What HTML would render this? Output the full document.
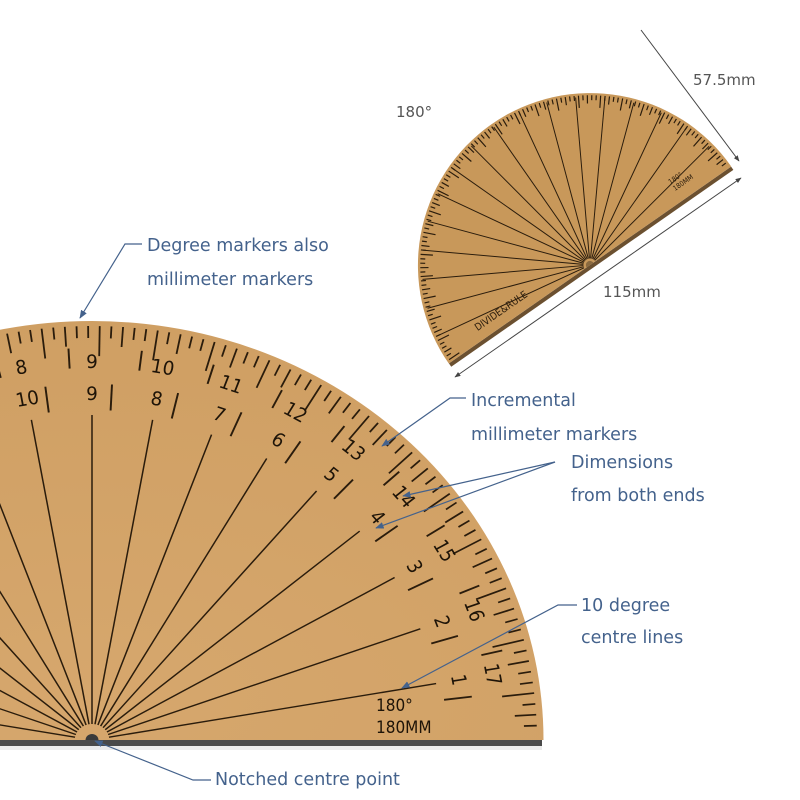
<!DOCTYPE html>
<html><head><meta charset="utf-8"><style>
html,body{margin:0;padding:0;background:#fff}
svg{display:block}
.lb{font-family:"DejaVu Sans","Liberation Sans",sans-serif;font-size:17.5px;fill:#44628c}
.dm{font-family:"DejaVu Sans","Liberation Sans",sans-serif;font-size:15px;fill:#555}
.num{font-family:"DejaVu Sans Condensed","DejaVu Sans",sans-serif;font-size:19px;fill:#1e1408;text-anchor:middle}
</style></head><body>
<svg id="s" width="800" height="800" viewBox="0 0 800 800" xmlns="http://www.w3.org/2000/svg">
<defs>
<radialGradient id="wood" cx="0.5" cy="0.9" r="0.9">
<stop offset="0" stop-color="#d6a76d"/><stop offset="1" stop-color="#cf9f63"/>
</radialGradient>
<marker id="ah" viewBox="0 0 10 10" refX="9" refY="5" markerWidth="7" markerHeight="7" orient="auto"><path d="M0,1 L10,5 L0,9 z" fill="#44628c"/></marker>
<marker id="dh" viewBox="0 0 10 10" refX="9" refY="5" markerWidth="6" markerHeight="6" orient="auto-start-reverse"><path d="M0,1 L10,5 L0,9 z" fill="#444"/></marker>
</defs>

<!-- big protractor -->
<rect x="0" y="739" width="542" height="7" fill="#4a4a4a"/>
<rect x="0" y="746" width="542" height="4" fill="#ddd" opacity="0.6"/>
<g id="big" transform="translate(92,740) scale(1.075,1)">
  <path d="M-420,0 A420,419 0 0 1 420,0 Z" fill="url(#wood)"/>
  <g id="bigLines" stroke="#2a1c0c" fill="none"></g>
  <path d="M-6,0 A6,6 0 0 1 6,0 Z" fill="#3a3a3a"/>
  <g id="bigLabels">
    <text class="num" transform="rotate(-80) translate(0,-372)">1</text>
    <text class="num" transform="rotate(-80) translate(0,-340)">17</text>
    <text class="num" transform="rotate(-70) translate(0,-372)">2</text>
    <text class="num" transform="rotate(-70) translate(0,-340)">16</text>
    <text class="num" transform="rotate(-60) translate(0,-372)">3</text>
    <text class="num" transform="rotate(-60) translate(0,-340)">15</text>
    <text class="num" transform="rotate(-50) translate(0,-372)">4</text>
    <text class="num" transform="rotate(-50) translate(0,-340)">14</text>
    <text class="num" transform="rotate(-40) translate(0,-372)">5</text>
    <text class="num" transform="rotate(-40) translate(0,-340)">13</text>
    <text class="num" transform="rotate(-30) translate(0,-372)">6</text>
    <text class="num" transform="rotate(-30) translate(0,-340)">12</text>
    <text class="num" transform="rotate(-20) translate(0,-372)">7</text>
    <text class="num" transform="rotate(-20) translate(0,-340)">11</text>
    <text class="num" transform="rotate(-10) translate(0,-372)">8</text>
    <text class="num" transform="rotate(-10) translate(0,-340)">10</text>
    <text class="num" transform="rotate(0) translate(0,-372)">9</text>
    <text class="num" transform="rotate(0) translate(0,-340)">9</text>
    <text class="num" transform="rotate(10) translate(0,-372)">10</text>
    <text class="num" transform="rotate(10) translate(0,-340)">8</text>
    <text class="num" transform="rotate(20) translate(0,-372)">11</text>
    <text class="num" transform="rotate(20) translate(0,-340)">7</text>
    <text class="num" transform="rotate(30) translate(0,-372)">12</text>
    <text class="num" transform="rotate(30) translate(0,-340)">6</text>
    <text class="num" transform="rotate(40) translate(0,-372)">13</text>
    <text class="num" transform="rotate(40) translate(0,-340)">5</text>
    <text class="num" transform="rotate(50) translate(0,-372)">14</text>
    <text class="num" transform="rotate(50) translate(0,-340)">4</text>
    <text class="num" transform="rotate(60) translate(0,-372)">15</text>
    <text class="num" transform="rotate(60) translate(0,-340)">3</text>
    <text class="num" transform="rotate(70) translate(0,-372)">16</text>
    <text class="num" transform="rotate(70) translate(0,-340)">2</text>
    <text class="num" transform="rotate(80) translate(0,-372)">17</text>
    <text class="num" transform="rotate(80) translate(0,-340)">1</text>
  </g>
</g>
<text x="376" y="711" font-family="DejaVu Sans Condensed,DejaVu Sans,sans-serif" font-size="17" fill="#1e1408">180°</text>
<text x="376" y="733" font-family="DejaVu Sans Condensed,DejaVu Sans,sans-serif" font-size="17" fill="#1e1408">180MM</text>

<!-- small protractor -->
<g transform="translate(590,265) rotate(-34.9)">
  <path d="M-172,0 L172,0 L172,4 L-172,4 Z" fill="#6b5030"/>
  <g transform="scale(0.41)">
    <path d="M-420,0 A420,419 0 0 1 420,0 Z" fill="#c8985a"/>
    <g id="smallLines" stroke="#2a1c0c" fill="none"></g>
    <path d="M-10,0 A10,10 0 0 1 10,0 Z" fill="#8a6a40"/>
  </g>
  <text x="-130" y="-10" font-family="DejaVu Sans Condensed,sans-serif" font-size="10" fill="#2a1c0c">DIVIDE&amp;RULE</text>
  <text x="112" y="-20" font-family="DejaVu Sans Condensed,sans-serif" font-size="7" fill="#2a1c0c">180°</text>
  <text x="112" y="-12" font-family="DejaVu Sans Condensed,sans-serif" font-size="7" fill="#2a1c0c">180MM</text>
</g>

<!-- dimension lines -->
<line x1="641" y1="30" x2="739" y2="161" stroke="#444" stroke-width="1" marker-end="url(#dh)"/>
<line x1="455" y1="377" x2="741" y2="178" stroke="#444" stroke-width="1" marker-start="url(#dh)" marker-end="url(#dh)"/>
<text class="dm" x="396" y="117">180°</text>
<text class="dm" x="693" y="85">57.5mm</text>
<text class="dm" x="603" y="297">115mm</text>

<!-- callouts -->
<g stroke="#44628c" stroke-width="1.2" fill="none">
  <polyline points="142,244 125,244 80,318" marker-end="url(#ah)"/>
  <polyline points="466,398 450,398 382,446" marker-end="url(#ah)"/>
  <line x1="555" y1="462" x2="403" y2="496" marker-end="url(#ah)"/>
  <line x1="555" y1="462" x2="376" y2="528" marker-end="url(#ah)"/>
  <polyline points="577,605 558,605 402,688" marker-end="url(#ah)"/>
  <polyline points="211,780 193,780 95,741" marker-end="url(#ah)"/>
</g>
<text class="lb" x="147" y="251">Degree markers also</text>
<text class="lb" x="147" y="285">millimeter markers</text>
<text class="lb" x="471" y="406">Incremental</text>
<text class="lb" x="471" y="440">millimeter markers</text>
<text class="lb" x="571" y="468">Dimensions</text>
<text class="lb" x="571" y="501">from both ends</text>
<text class="lb" x="581" y="611">10 degree</text>
<text class="lb" x="581" y="643">centre lines</text>
<text class="lb" x="215" y="785">Notched centre point</text>
</svg>
<script>
(function(){
var NS="http://www.w3.org/2000/svg";
function build(id,sw,brackets){
  var g=document.getElementById(id);
  function ln(a,r1,r2,w){
    var t=a*Math.PI/180,s=Math.sin(t),c=Math.cos(t);
    var l=document.createElementNS(NS,"line");
    l.setAttribute("x1",(s*r1).toFixed(1));l.setAttribute("y1",(-c*r1).toFixed(1));
    l.setAttribute("x2",(s*r2).toFixed(1));l.setAttribute("y2",(-c*r2).toFixed(1));
    l.setAttribute("stroke-width",w);g.appendChild(l);
  }
  for(var a=-89;a<=89;a+=1.5){
    var k=Math.round((a+89)/1.5);
    var len=(k%5===0)?30:((k%5===2)?20:12);
    ln(a,414,414-len,sw*1.2);
  }
  for(var a=-80;a<=80;a+=10){
    ln(a,16,brackets?325:410,sw);
    if(brackets){
      ln(a-3.2,392,372,sw*1.3);
      ln(a+3,356,330,sw*1.3);
    }
  }
}
build("bigLines",1.4,true);
build("smallLines",2.4,false);
})();
</script>
</body></html>
